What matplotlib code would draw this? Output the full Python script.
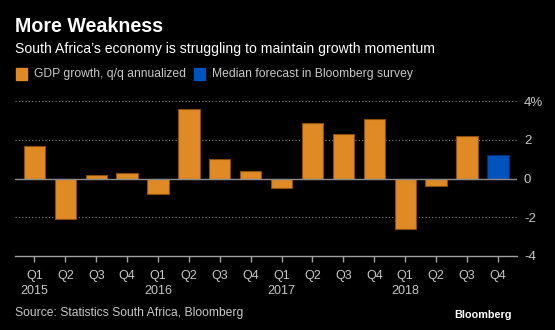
import matplotlib
matplotlib.use("Agg")
import matplotlib.pyplot as plt
from matplotlib.patches import Rectangle

quarters = ["Q1", "Q2", "Q3", "Q4"] * 4
years = ["2015", "2016", "2017", "2018"]
gdp_growth = [1.7, -2.1, 0.2, 0.3, -0.8, 3.6, 1.0, 0.4,
              -0.5, 2.9, 2.3, 3.1, -2.6, -0.4, 2.2, None]
forecast = [None] * 15 + [1.2]
y_ticks = [-4, -2, 0, 2, 4]
y_labels = ["-4", "-2", "0", "2", "4%"]

ORANGE = "#E08A26"
BLUE = "#0052BD"
BG = "black"
GREY_TXT = "#c8c8c8"
FONT = ["Liberation Sans", "DejaVu Sans"]

fig = plt.figure(figsize=(5.55, 3.30), dpi=100, facecolor=BG)
ax = fig.add_axes([15 / 555, 1 - 255.7 / 330, 502 / 555, 154.4 / 330], facecolor=BG)

x = list(range(len(quarters)))
for i, v in enumerate(gdp_growth):
    if v is not None:
        ax.bar(i, v, width=0.69, color=ORANGE, edgecolor="#8a4f10", linewidth=0.8, zorder=3)
for i, v in enumerate(forecast):
    if v is not None:
        ax.bar(i, v, width=0.69, color=BLUE, edgecolor="#002f70", linewidth=0.8, zorder=3)

ax.set_xlim(-0.63, 15.62)
ax.set_ylim(-4, 4)

for t in [2, 4, -2]:
    ax.axhline(t, color="#8c8c8c", linewidth=0.8, linestyle=(0, (1, 2)), zorder=1)
ax.axhline(0, color="#8c8c8c", linewidth=1.0, zorder=4)

for s in ["top", "right", "left"]:
    ax.spines[s].set_visible(False)
ax.spines["bottom"].set_color("#a0a0a0")
ax.spines["bottom"].set_linewidth(1.0)

ax.yaxis.tick_right()
ax.set_yticks(y_ticks)
ax.set_yticklabels(y_labels, color=GREY_TXT, fontsize=9.5, family=FONT)
ax.tick_params(axis="y", length=0, pad=5)

ax.set_xticks(x)
ax.set_xticklabels(quarters, color=GREY_TXT, fontsize=9, family=FONT)
ax.tick_params(axis="x", length=4, color="#a0a0a0", width=1, pad=6)

for k, yr in enumerate(years):
    ax.text(4 * k, -0.23, yr, transform=ax.get_xaxis_transform(),
            ha="center", va="center", color=GREY_TXT, fontsize=9, family=FONT)

fig.text(15 / 555, 1 - 26 / 330, "More Weakness", color="white", fontsize=14.1,
         fontweight="bold", family=FONT, va="center", ha="left")
fig.text(15 / 555, 1 - 49 / 330,
         "South Africa\u2019s economy is struggling to maintain growth momentum",
         color="white", fontsize=10.05, family=FONT, va="center", ha="left")

# legend swatches and labels
fig.patches.append(Rectangle((16 / 555, 1 - 80 / 330), 11 / 555, 12 / 330,
                             transform=fig.transFigure, color=ORANGE))
fig.text(34 / 555, 1 - 74 / 330, "GDP growth, q/q annualized", color=GREY_TXT,
         fontsize=8.7, family=FONT, va="center", ha="left")
fig.patches.append(Rectangle((194 / 555, 1 - 80 / 330), 11 / 555, 12 / 330,
                             transform=fig.transFigure, color=BLUE))
fig.text(212 / 555, 1 - 74 / 330, "Median forecast in Bloomberg survey", color=GREY_TXT,
         fontsize=8.7, family=FONT, va="center", ha="left")

fig.text(15 / 555, 1 - 313 / 330, "Source: Statistics South Africa, Bloomberg",
         color=GREY_TXT, fontsize=8.7, family=FONT, va="center", ha="left")
fig.text(512 / 555, 1 - 315 / 330, "Bloomberg", color="white", fontsize=7.8,
         fontweight="bold", family=FONT, va="center", ha="right")

fig.savefig("out.png", dpi=100, facecolor=BG)
